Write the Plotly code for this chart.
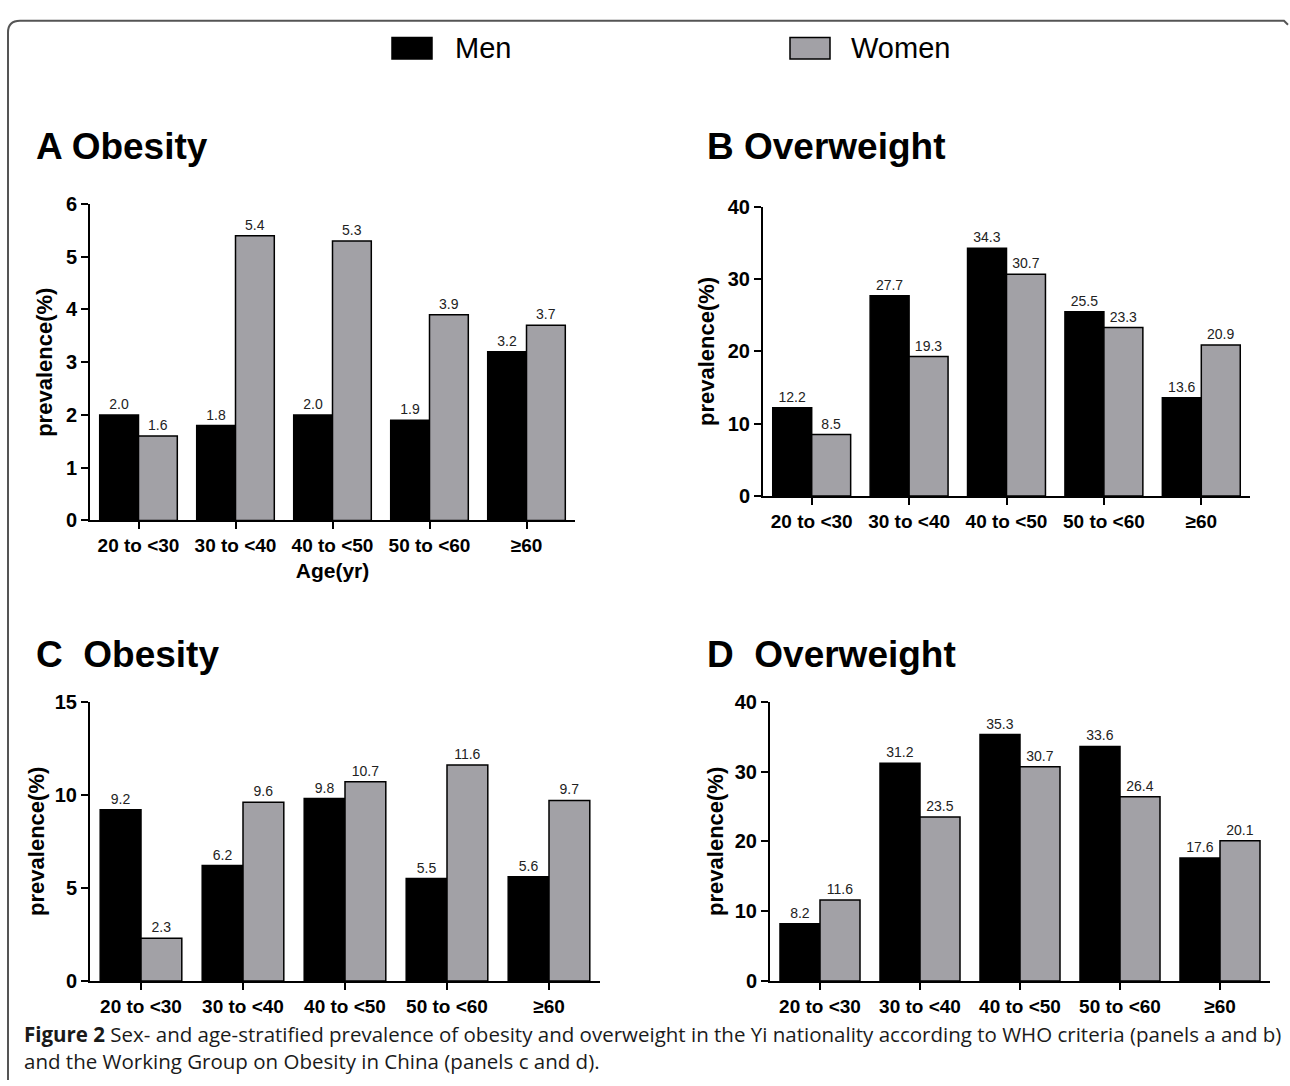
import plotly.graph_objects as go

W, H = 1290, 1086

categories = ["20 to <30", "30 to <40", "40 to <50", "50 to <60", "≥60"]

a_men = [2.0, 1.8, 2.0, 1.9, 3.2]
a_women = [1.6, 5.4, 5.3, 3.9, 3.7]

b_men = [12.2, 27.7, 34.3, 25.5, 13.6]
b_women = [8.5, 19.3, 30.7, 23.3, 20.9]

c_men = [9.2, 6.2, 9.8, 5.5, 5.6]
c_women = [2.3, 9.6, 10.7, 11.6, 9.7]

d_men = [8.2, 31.2, 35.3, 33.6, 17.6]
d_women = [11.6, 23.5, 30.7, 26.4, 20.1]

ARIAL = "Arial, Liberation Sans, Helvetica, sans-serif"
NARROW = "Liberation Sans Narrow, Arial Narrow, Arial, Liberation Sans, sans-serif"

panels = [
    # (men, women, ymax, dtick, xdomain px, ydomain px, title standoff)
    (a_men, a_women, 6, 1, (90, 575), (197, 520), 7),
    (b_men, b_women, 40, 10, (763, 1250), (200, 495), 7),
    (c_men, c_women, 15, 5, (90, 600), (705, 990), 4),
    (d_men, d_women, 40, 10, (770, 1270), (705, 990), 5),
]

MEN_COLOR = "#000000"
WOMEN_COLOR = "#a2a1a6"

fig = go.Figure()
layout = dict(
    width=W, height=H,
    margin=dict(l=0, r=0, t=0, b=0),
    paper_bgcolor="white", plot_bgcolor="white",
    barmode="group", bargap=0.2, bargroupgap=0,
    showlegend=False,
    font=dict(family=ARIAL, color="#000"),
)

for i, (men, women, ymax, dt, (x0, x1), (yt, yb), so) in enumerate(panels):
    sfx = "" if i == 0 else str(i + 1)
    for vals, col, name in ((men, MEN_COLOR, "Men"), (women, WOMEN_COLOR, "Women")):
        fig.add_trace(go.Bar(
            x=categories, y=vals, name=name, xaxis="x" + sfx, yaxis="y" + sfx,
            marker=dict(color=col, line=dict(color="#000", width=1.5)),
            text=[f"{v:.1f}" for v in vals], textposition="outside",
            textfont=dict(size=14, color="#222", family=ARIAL),
            cliponaxis=False,
        ))
    layout["xaxis" + sfx] = dict(
        domain=[x0 / W, x1 / W], anchor="y" + sfx,
        showline=True, linecolor="#000", linewidth=2,
        ticks="outside", ticklen=7, tickwidth=1.5, tickcolor="#000",
        tickfont=dict(size=19, family=ARIAL, color="#000", weight="bold"),
        showgrid=False, zeroline=False, fixedrange=True,
    )
    layout["yaxis" + sfx] = dict(
        domain=[1 - yb / H, 1 - yt / H], anchor="x" + sfx,
        range=[0, ymax], dtick=dt, tick0=0,
        showline=True, linecolor="#000", linewidth=2,
        ticks="outside", ticklen=7, tickwidth=1.5, tickcolor="#000",
        tickfont=dict(size=20, family=ARIAL, color="#000", weight="bold"),
        showgrid=False, zeroline=False, fixedrange=True,
        title=dict(text="prevalence(%)", standoff=so,
                   font=dict(size=22, family=ARIAL, color="#000", weight="bold")),
    )

layout["xaxis"]["title"] = dict(text="Age(yr)", standoff=8,
                                font=dict(size=21, family=ARIAL, color="#000", weight="bold"))

fig.update_layout(**layout)

def px(x, y):
    return x / W, 1 - y / H

annotations = []
titles = [
    ("<b>A Obesity</b>", 34, 138),
    ("<b>B Overweight</b>", 705, 138),
    ("<b>C  Obesity</b>", 34, 657),
    ("<b>D  Overweight</b>", 705, 657),
]
for t, x, y in titles:
    ax, ay = px(x, y)
    annotations.append(dict(text=t, x=ax, y=ay, xref="paper", yref="paper",
                            xanchor="left", yanchor="middle", showarrow=False,
                            font=dict(size=37, family=ARIAL, color="#000")))

for t, x in (("Men", 453), ("Women", 849)):
    ax, ay = px(x, 38)
    annotations.append(dict(text=t, x=ax, y=ay, xref="paper", yref="paper",
                            xanchor="left", yanchor="middle", showarrow=False,
                            font=dict(size=29, family=NARROW, color="#000")))

caption = ("<b>Figure 2</b> Sex- and age-stratified prevalence of obesity and overweight in the Yi "
           "nationality according to WHO criteria (panels a and b)<br>"
           "and the Working Group on Obesity in China (panels c and d).")
ax, ay = px(22, 1057.5)
annotations.append(dict(text=caption, x=ax, y=ay, xref="paper", yref="paper",
                        xanchor="left", yanchor="middle", align="left", showarrow=False,
                        font=dict(size=20.5, family="Open Sans, sans-serif", color="#1a1a1a")))

shapes = []
for (x0, x1, col) in ((392, 432, MEN_COLOR), (790, 830, WOMEN_COLOR)):
    ax0, ay0 = px(x0, 27)
    ax1, ay1 = px(x1, 49)
    shapes.append(dict(type="rect", xref="paper", yref="paper", x0=ax0, x1=ax1, y0=ay1, y1=ay0,
                       fillcolor=col, line=dict(color="#000", width=1.5)))

path = (f"M {8/W},{1 - (H+5)/H} L {8/W},{1 - 22/H} "
        f"Q {8/W},{1 - 10/H} {20/W},{1 - 10/H} L {1284/W},{1 - 10/H} L {1288/W},{1 - 14/H}")
shapes.append(dict(type="path", xref="paper", yref="paper", path=path,
                   line=dict(color="#555", width=2)))

fig.update_layout(annotations=annotations, shapes=shapes)

post = (
    "document.documentElement.style.margin='0';"
    "document.documentElement.style.overflow='hidden';"
    "document.body.style.margin='0';document.body.style.padding='0';"
    "document.body.style.overflow='hidden';"
    "var d=document.getElementById('{plot_id}');"
    "d.style.position='fixed';d.style.top='0px';d.style.left='0px';"
)

fig.write_html("out.html", config={"displayModeBar": False}, post_script=post)
